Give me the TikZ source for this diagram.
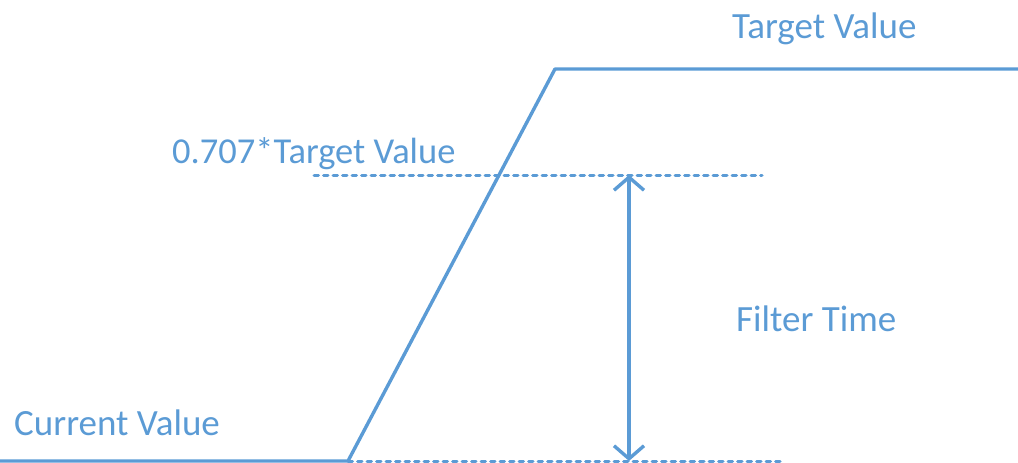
\documentclass[tikz,border=0pt]{standalone}
\usepackage{fontspec}
\setmainfont{Carlito}
\usetikzlibrary{arrows.meta}
\definecolor{lineblue}{HTML}{5B9BD5}
\begin{document}
\begin{tikzpicture}[x=1pt,y=-1pt,
  solidline/.style={draw=lineblue,line width=3.4pt,line join=round},
  dashline/.style={draw=lineblue,line width=3pt,line cap=round,dash pattern=on 4.5pt off 5pt},
  dimarrow/.style={draw=lineblue,line width=3.4pt,{Straight Barb[length=13pt,width=30pt,line width=3.4pt]}-{Straight Barb[length=13pt,width=30pt,line width=3.4pt]}},
  lbl/.style={text=lineblue,font=\fontsize{37}{40}\selectfont,inner sep=0pt,anchor=base west}]
\useasboundingbox (0,0) rectangle (1018,463);
\coordinate (L0) at (0,461);
\coordinate (R0) at (348,461);
\coordinate (R1) at (555,69);
\coordinate (L1) at (1018,69);
\coordinate (D0a) at (348,461);
\coordinate (D0b) at (783,461);
\coordinate (D1a) at (314,175);
\coordinate (D1b) at (762,175);
\coordinate (A0) at (629,175);
\coordinate (A1) at (629,461);
\draw[dashline] (D0a) -- (D0b);
\draw[dashline] (D1a) -- (D1b);
\draw[solidline] (L0) -- (R0) -- (R1) -- (L1);
\draw[dimarrow] (A0) -- (A1);
\node[lbl] (tv) at (732,38) {Target Value};
\node[lbl, font=\fontsize{36.5}{40}\selectfont] (tv7) at (172,163) {0.707*Target Value};
\node[lbl] (ft) at (736,331) {Filter Time};
\node[lbl] (cv) at (14,435) {Current Value};
\end{tikzpicture}
\end{document}
